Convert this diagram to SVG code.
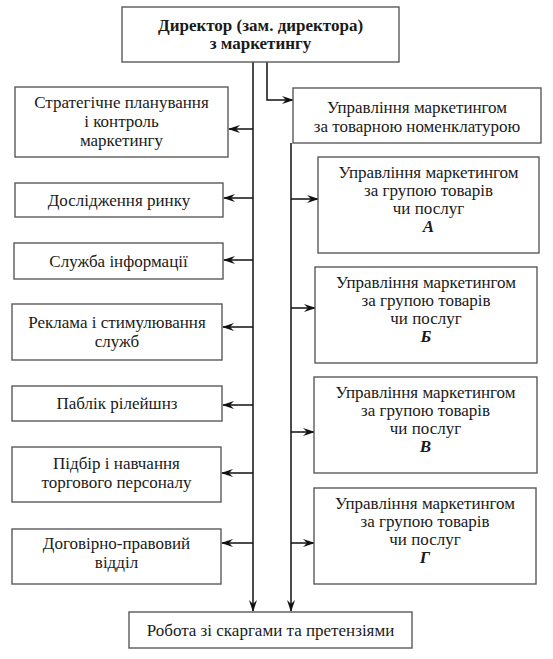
<svg xmlns="http://www.w3.org/2000/svg" width="553" height="659" viewBox="0 0 553 659">
<style>
.box{fill:#fff;stroke:#5a5a5a;stroke-width:1.4}
text{font-family:"Liberation Serif","DejaVu Serif",serif;font-size:17px;fill:#1a1a1a;text-anchor:middle}
.b{font-weight:bold}
.bi{font-weight:bold;font-style:italic}
.c{fill:none;stroke:#111;stroke-width:1.5}
</style>
<defs>
<marker id="ar" viewBox="0 0 12 8" refX="11" refY="4" markerWidth="12" markerHeight="8" markerUnits="userSpaceOnUse" orient="auto">
<path d="M0,0 L12,4 L0,8 L4,4 z" fill="#111"/>
</marker>
</defs>
<rect width="553" height="659" fill="#fff"/>
<g id="connectors">
<path class="c" d="M253,62 V611" marker-end="url(#ar)"/>
<path class="c" d="M267,62 V100 H293" marker-end="url(#ar)"/>
<path class="c" d="M291,143 V611" marker-end="url(#ar)"/>
<path class="c" d="M253,129 H229" marker-end="url(#ar)"/>
<path class="c" d="M253,198 H224" marker-end="url(#ar)"/>
<path class="c" d="M253,260 H224" marker-end="url(#ar)"/>
<path class="c" d="M253,327 H223" marker-end="url(#ar)"/>
<path class="c" d="M253,405 H223" marker-end="url(#ar)"/>
<path class="c" d="M253,473 H222" marker-end="url(#ar)"/>
<path class="c" d="M253,543 H222" marker-end="url(#ar)"/>
<path class="c" d="M291,199 H318" marker-end="url(#ar)"/>
<path class="c" d="M291,308 H315" marker-end="url(#ar)"/>
<path class="c" d="M291,432 H314" marker-end="url(#ar)"/>
<path class="c" d="M291,543 H314" marker-end="url(#ar)"/>
</g>
<g id="director">
<rect class="box" x="122" y="7" width="277" height="55"/>
<text class="b" x="260.5" y="31">Директор (зам. директора)</text>
<text class="b" x="260.5" y="49">з маркетингу</text>
</g>
<g id="nomenclature">
<rect class="box" x="293" y="88" width="248" height="55"/>
<text x="417" y="113">Управління маркетингом</text>
<text x="417" y="132">за товарною номенклатурою</text>
</g>
<g id="strategic">
<rect class="box" x="15" y="87" width="213" height="70"/>
<text x="121.5" y="108">Стратегічне планування</text>
<text x="121.5" y="127">і контроль</text>
<text x="121.5" y="146">маркетингу</text>
</g>
<g id="research">
<rect class="box" x="15" y="183" width="208" height="34"/>
<text x="119" y="206">Дослідження ринку</text>
</g>
<g id="info">
<rect class="box" x="14" y="243" width="209" height="36"/>
<text x="118.5" y="267">Служба інформації</text>
</g>
<g id="advertising">
<rect class="box" x="12" y="304" width="210" height="56"/>
<text x="117" y="328">Реклама і стимулювання</text>
<text x="117" y="347">служб</text>
</g>
<g id="pr">
<rect class="box" x="12" y="386" width="210" height="35"/>
<text x="117" y="409">Паблік рілейшнз</text>
</g>
<g id="personnel">
<rect class="box" x="12" y="447" width="209" height="55"/>
<text x="116.5" y="469">Підбір і навчання</text>
<text x="116.5" y="488">торгового персоналу</text>
</g>
<g id="legal">
<rect class="box" x="12" y="529" width="209" height="55"/>
<text x="116.5" y="549">Договірно-правовий</text>
<text x="116.5" y="568">відділ</text>
</g>
<g id="groupA">
<rect class="box" x="318" y="157" width="221" height="96"/>
<text x="428.5" y="178">Управління маркетингом</text>
<text x="428.5" y="196">за групою товарів</text>
<text x="428.5" y="214">чи послуг</text>
<text class="bi" x="428.5" y="232">А</text>
</g>
<g id="groupB">
<rect class="box" x="315" y="267" width="222" height="96"/>
<text x="426" y="288">Управління маркетингом</text>
<text x="426" y="306">за групою товарів</text>
<text x="426" y="324">чи послуг</text>
<text class="bi" x="426" y="342">Б</text>
</g>
<g id="groupV">
<rect class="box" x="314" y="377" width="223" height="96"/>
<text x="425.5" y="398">Управління маркетингом</text>
<text x="425.5" y="416">за групою товарів</text>
<text x="425.5" y="434">чи послуг</text>
<text class="bi" x="425.5" y="452">В</text>
</g>
<g id="groupG">
<rect class="box" x="314" y="488" width="222" height="96"/>
<text x="425" y="509">Управління маркетингом</text>
<text x="425" y="527">за групою товарів</text>
<text x="425" y="545">чи послуг</text>
<text class="bi" x="425" y="563">Г</text>
</g>
<g id="complaints">
<rect class="box" x="129" y="612" width="283" height="36"/>
<text x="270.5" y="636">Робота зі скаргами та претензіями</text>
</g>
</svg>
